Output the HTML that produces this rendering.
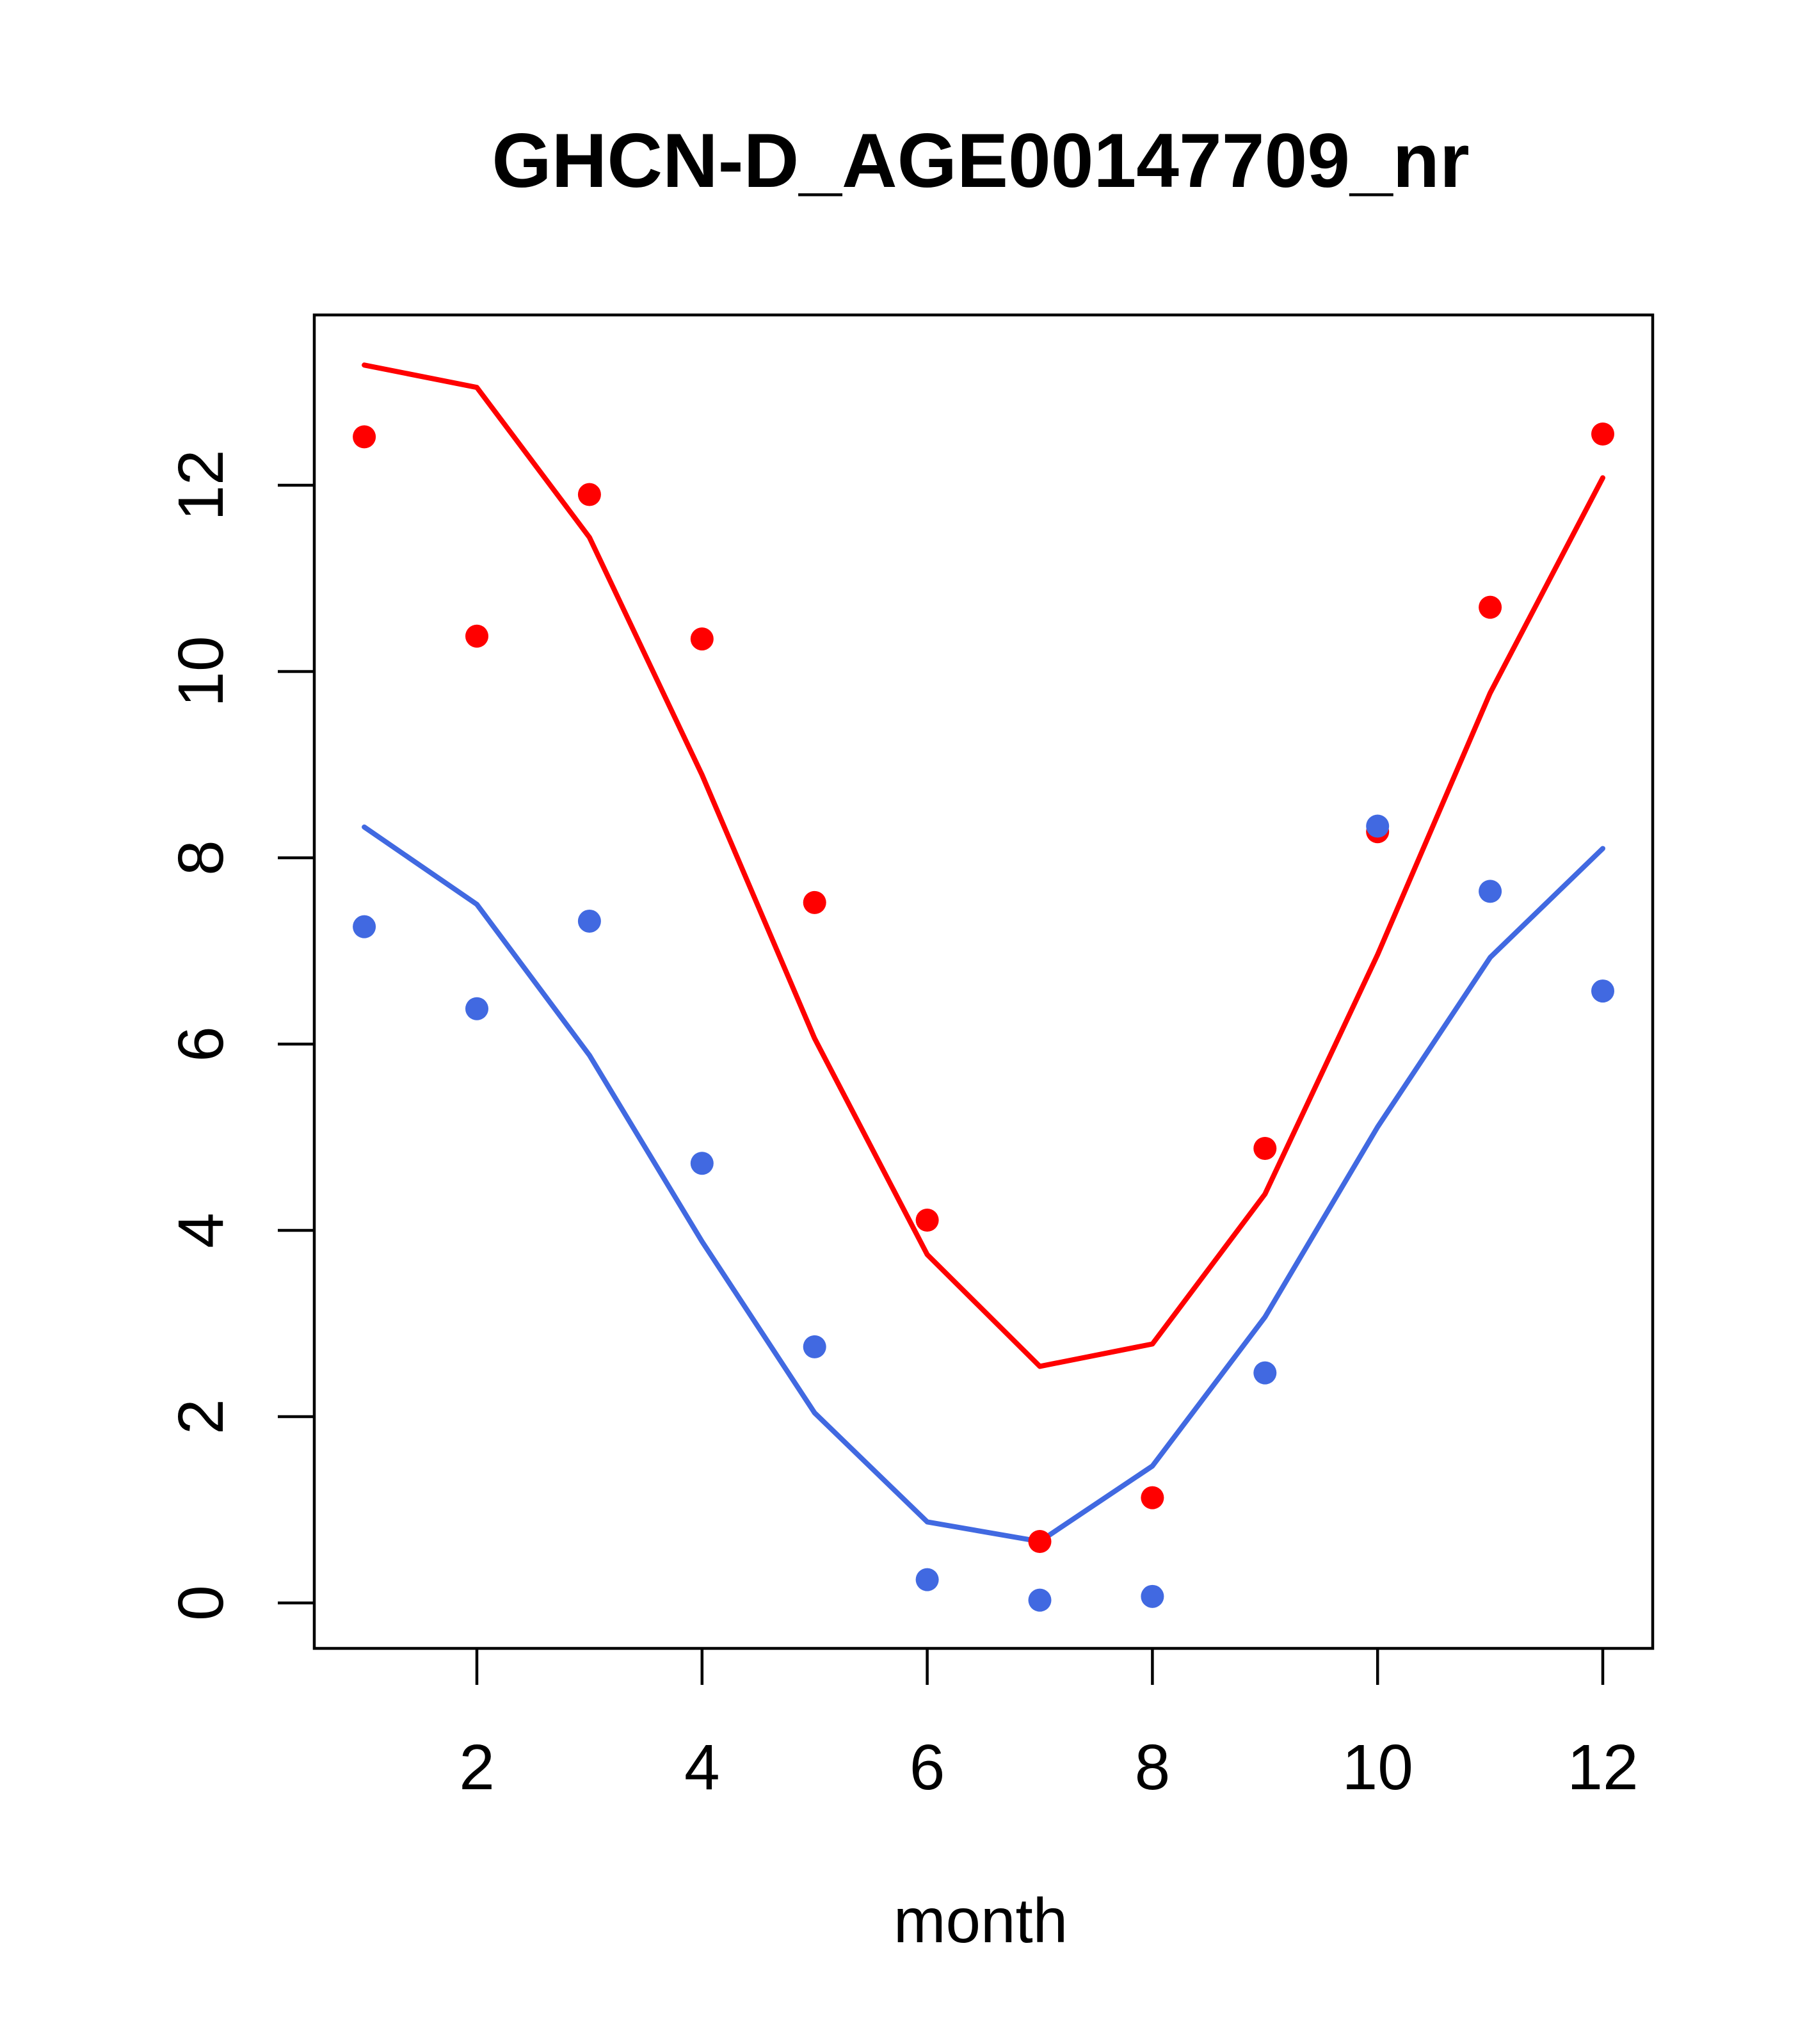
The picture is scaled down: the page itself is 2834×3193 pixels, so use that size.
<!DOCTYPE html>
<html><head><meta charset="utf-8"><style>html,body{margin:0;padding:0;background:#fff}</style></head>
<body>
<svg id="chart" width="2834" height="3188" xmlns="http://www.w3.org/2000/svg" font-family="Liberation Sans, sans-serif">
<rect width="2834" height="3188" fill="#fff"/>
<text x="1532" y="292" font-size="120" font-weight="bold" text-anchor="middle">GHCN-D_AGE00147709_nr</text>
<g id="axes"></g>
<g id="marks"></g>
<rect x="491" y="492" width="2091" height="2083" fill="none" stroke="#000" stroke-width="4.5"/>
<text x="1532" y="3034" font-size="98" text-anchor="middle">month</text>
</svg>
<script>
const months = [1,2,3,4,5,6,7,8,9,10,11,12];
const redLine = [13.29,13.05,11.44,8.89,6.06,3.74,2.54,2.78,4.39,6.96,9.77,12.08];
const redPoints = [12.52,10.38,11.90,10.35,7.52,4.11,0.66,1.13,4.88,8.28,10.69,12.55];
const blueLine = [8.33,7.50,5.88,3.88,2.04,0.87,0.66,1.47,3.07,5.11,6.93,8.10];
const bluePoints = [7.26,6.38,7.32,4.72,2.75,0.25,0.03,0.07,2.47,8.34,7.64,6.57];
const xTicks = [2,4,6,8,10,12];
const yTicks = [0,2,4,6,8,10,12];
const NS = 'http://www.w3.org/2000/svg';
function sx(v){ return 745 + (v-2)*175.9; }
function sy(v){ return 2504 - v*145.5; }
const axes = document.getElementById('axes');
const marks = document.getElementById('marks');
function mk(tag, attrs, parent){ const e=document.createElementNS(NS,tag); for(const k in attrs) e.setAttribute(k,attrs[k]); parent.appendChild(e); return e; }
xTicks.forEach(t=>{
  const l=mk('line',{x1:sx(t),x2:sx(t),y1:2575,y2:2632,stroke:'#000','stroke-width':4.5},axes);
  
  
  const tx=mk('text',{x:sx(t),y:2795,'font-size':100,'text-anchor':'middle'},axes);
  tx.textContent=t;
  
  
});
yTicks.forEach(t=>{
  const l=mk('line',{x1:434,x2:491,y1:sy(t),y2:sy(t),stroke:'#000','stroke-width':4.5},axes);
  
  
  const tx=mk('text',{x:0,y:0,'font-size':100,'text-anchor':'middle',transform:`translate(348,${sy(t)}) rotate(-90)`},axes);
  tx.textContent=t;
  
  
});
function line(vals,color,name){
  const p=mk('polyline',{points:months.map((m,i)=>sx(m)+','+sy(vals[i])).join(' '),fill:'none',stroke:color,'stroke-width':8,'stroke-linejoin':'round','stroke-linecap':'round'},marks);
  
  
}
function pts(vals,color,name){
  months.forEach((m,i)=>{
    const c=mk('circle',{cx:sx(m),cy:sy(vals[i]),r:18,fill:color},marks);
    
    
  });
}
line(redLine,'#ff0000','red-line');
line(blueLine,'#4169e1','blue-line');
pts(redPoints,'#ff0000','red-point');
pts(bluePoints,'#4169e1','blue-point');
</script>
</body></html>
